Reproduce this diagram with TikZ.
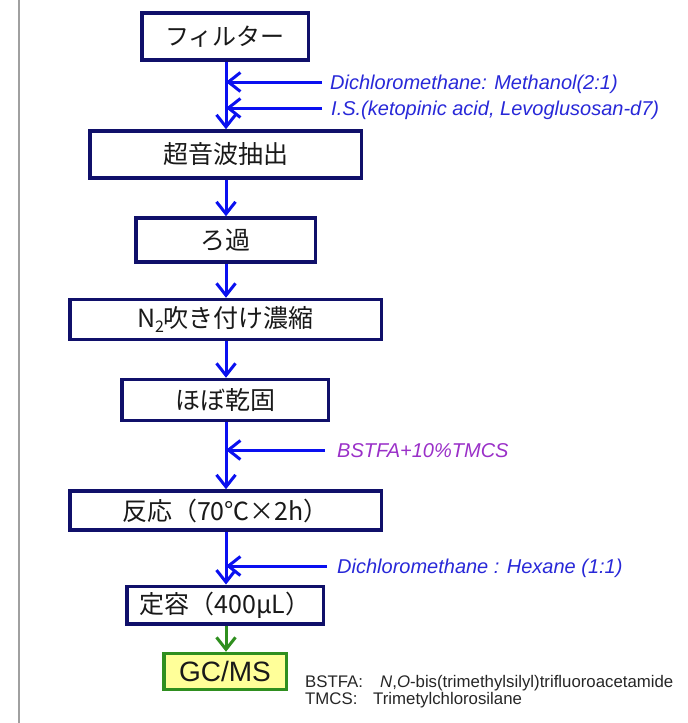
\documentclass[tikz,border=0pt]{standalone}
\usepackage{fontspec}
\setmainfont{Liberation Sans}
\newfontfamily\jp{Noto Sans CJK JP}
\usetikzlibrary{arrows.meta}
\definecolor{navy}{HTML}{10106A}
\definecolor{arrblue}{HTML}{0A10F0}
\definecolor{labblue}{HTML}{2828D8}
\definecolor{purp}{HTML}{9A30C8}
\definecolor{gcgreen}{HTML}{2F8F1F}
\definecolor{gcfill}{HTML}{FFFF99}
\definecolor{frame}{HTML}{A0A0A0}
\begin{document}
\begin{tikzpicture}[x=1pt,y=-1pt,
  stepbox/.style={draw=navy, line width=3.5pt, fill=white, inner sep=0pt,
    font=\jp\fontsize{25}{29}\selectfont, text=black!90},
  flow/.style={draw=arrblue, line width=3pt, -{Straight Barb[length=12pt,width=19pt]}},
  gcflow/.style={draw=gcgreen, line width=3pt, -{Straight Barb[length=12pt,width=19pt]}},
  addlabel/.style={anchor=base west, inner sep=0pt, font=\fontsize{20}{24}\selectfont\itshape, text=labblue},
  note/.style={anchor=base west, inner sep=0pt, font=\fontsize{16.8}{20}\selectfont, text=black!85}
]
\useasboundingbox (0,0) rectangle (688,723);
\draw[frame, line width=2pt] (19,0) -- (19,723);

\coordinate (spine) at (226,0);

\node[stepbox, minimum width=166.5pt, minimum height=47pt] (filter) at (225,36.5) {\fontsize{24}{28}\selectfont フィルター};
\node[stepbox, minimum width=271.5pt, minimum height=47pt] (ultra) at (225.5,154.5) {超音波抽出};
\node[stepbox, minimum width=179.5pt, minimum height=44pt] (roka) at (225.5,240) {ろ過};
\node[stepbox, minimum width=311.5pt, minimum height=40pt] (ntwo) at (225.5,319.5) {N\raisebox{-5pt}{\fontsize{16}{16}\selectfont 2}吹き付け濃縮};
\node[stepbox, minimum width=206.5pt, minimum height=41pt] (dry) at (225,400) {ほぼ乾固};
\node[stepbox, minimum width=311.5pt, minimum height=39pt] (react) at (225.5,510.5) {反応（70℃×2h）};
\node[stepbox, minimum width=196.5pt, minimum height=37.5pt] (vol) at (225,605) {定容（400μL）};
\node[draw=gcgreen, fill=gcfill, line width=3.5pt, inner sep=0pt, minimum width=122.5pt, minimum height=36pt,
  font=\fontsize{28}{32}\selectfont, text=black!90] (gc) at (225,671.5) {GC/MS};

\draw[flow] (filter.south -| spine) -- (ultra.north -| spine);
\draw[flow] (ultra.south -| spine) -- (roka.north -| spine);
\draw[flow] (roka.south -| spine) -- (ntwo.north -| spine);
\draw[flow] (ntwo.south -| spine) -- (dry.north -| spine);
\draw[flow] (dry.south -| spine) -- (react.north -| spine);
\draw[flow] (react.south -| spine) -- (vol.north -| spine);
\draw[gcflow] (vol.south -| spine) -- (gc.north -| spine);

\coordinate (a1) at (322,82);
\coordinate (a2) at (322,108);
\coordinate (a3) at (325,450);
\coordinate (a4) at (327,566);
\draw[flow] (a1) -- (a1 -| spine);
\draw[flow] (a2) -- (a2 -| spine);
\draw[flow] (a3) -- (a3 -| spine);
\draw[flow] (a4) -- (a4 -| spine);

\node[addlabel] (l1) at (330,89) {Dichloromethane: Methanol(2:1)};
\node[addlabel] (l2) at (331,115) {I.S.(ketopinic acid, Levoglusosan-d7)};
\node[addlabel, text=purp] (l3) at (337,457) {BSTFA+10\%TMCS};
\node[addlabel] (l4) at (337,573) {Dichloromethane : Hexane (1:1)};

\node[note] (n1) at (305,687) {BSTFA:};
\node[note] (n2) at (380,687) {\textit{N},\textit{O}-bis(trimethylsilyl)trifluoroacetamide};
\node[note] (n3) at (305,704) {TMCS:};
\node[note] (n4) at (373,704) {Trimetylchlorosilane};
\end{tikzpicture}
\end{document}
